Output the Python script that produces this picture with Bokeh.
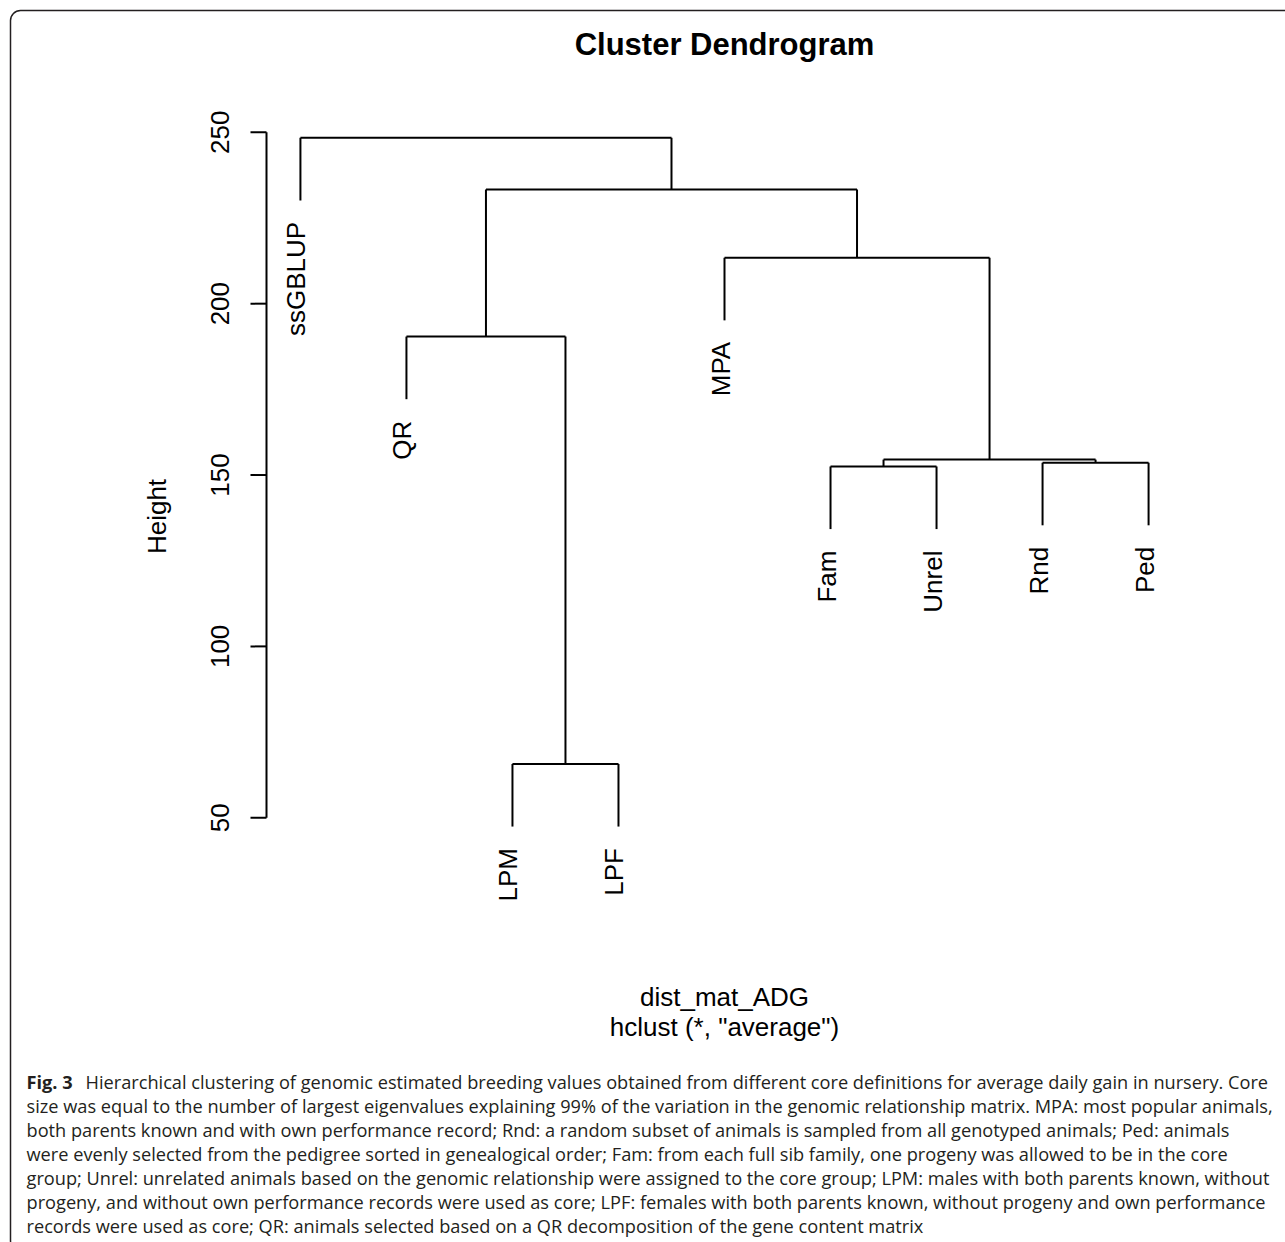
import math
from bokeh.plotting import figure
from bokeh.models import Range1d, Label, BoxAnnotation, ColumnDataSource
from bokeh.core.properties import value
from bokeh.embed import file_html
from bokeh.resources import INLINE

# ---------------- data ----------------
leaf_labels = ["ssGBLUP", "QR", "LPM", "LPF", "MPA", "Fam", "Unrel", "Rnd", "Ped"]
# R-style merge table: negative = leaf (1-based position in leaf order), positive = earlier merge
merge_left = [-3, -6, -8, 2, -2, -5, 5, -1]
merge_right = [-4, -7, -9, 3, 1, 4, 6, 7]
merge_height = [65.7, 152.5, 153.6, 154.5, 190.4, 213.4, 233.3, 248.4]
y_ticks = [50, 100, 150, 200, 250]
y_tick_labels = ["50", "100", "150", "200", "250"]

title_text = "Cluster Dendrogram"
xlab_lines = ["dist_mat_ADG", 'hclust (*, "average")']
ylab_text = "Height"
caption_bold = "Fig. 3"
caption_lines = [
    "Hierarchical clustering of genomic estimated breeding values obtained from different core definitions for average daily gain in nursery. Core",
    "size was equal to the number of largest eigenvalues explaining 99% of the variation in the genomic relationship matrix. MPA: most popular animals,",
    "both parents known and with own performance record; Rnd: a random subset of animals is sampled from all genotyped animals; Ped: animals",
    "were evenly selected from the pedigree sorted in genealogical order; Fam: from each full sib family, one progeny was allowed to be in the core",
    "group; Unrel: unrelated animals based on the genomic relationship were assigned to the core group; LPM: males with both parents known, without",
    "progeny, and without own performance records were used as core; LPF: females with both parents known, without progeny and own performance",
    "records were used as core; QR: animals selected based on a QR decomposition of the gene content matrix",
]

# ---------------- layout constants ----------------
W, H = 1285, 1242
PL, PR, PT, PB = 266, 1182, 107, 925   # R plot region in pixels
n = len(leaf_labels)
hang = 0.1 * (max(merge_height) - min(merge_height))
LABEL_LOW = 27.4                        # lowest extent of leaf labels (data units)
rx0, rx1 = 1 - 0.04 * (n - 1), n + 0.04 * (n - 1)
span = max(merge_height) - LABEL_LOW
ry1 = max(merge_height) + 0.04 * span
ry0 = LABEL_LOW - 0.04 * span

def xd(px):
    return rx0 + (px - PL) / (PR - PL) * (rx1 - rx0)

def yd(py):
    return ry1 - (py - PT) / (PB - PT) * (ry1 - ry0)

# ---------------- dendrogram geometry ----------------
node_x = {}
seg_x0, seg_y0, seg_x1, seg_y1 = [], [], [], []
leaf_x = [i + 1 for i in range(n)]
leaf_end = [0.0] * n

def child_pos(c, parent_h):
    if c < 0:
        idx = -c - 1
        leaf_end[idx] = parent_h - hang
        return leaf_x[idx], parent_h - hang
    return node_x[c], merge_height[c - 1]

for k in range(len(merge_height)):
    h = merge_height[k]
    xa, ya = child_pos(merge_left[k], h)
    xb, yb = child_pos(merge_right[k], h)
    seg_x0 += [xa, xb, xa]
    seg_y0 += [ya, yb, h]
    seg_x1 += [xa, xb, xb]
    seg_y1 += [h, h, h]
    node_x[k + 1] = (xa + xb) / 2

# ---------------- figure (frame = whole canvas) ----------------
p = figure(width=W, height=H, output_backend="svg", toolbar_location=None,
           x_range=Range1d(xd(0), xd(W)), y_range=Range1d(yd(H), yd(0)),
           x_axis_type=None, y_axis_type=None,
           min_border=0, min_border_left=0, min_border_right=0,
           min_border_top=0, min_border_bottom=0,
           outline_line_color=None, background_fill_color="white",
           border_fill_color="white")
p.grid.visible = False

LW = 2.0
FONT = "Liberation Sans"

# y axis (R style: line from first to last tick, outward ticks, rotated labels)
tick_len = xd(PL) - xd(PL - 16)
p.segment(x0=[rx0], y0=[min(y_ticks)], x1=[rx0], y1=[max(y_ticks)], line_color="black", line_width=LW)
p.segment(x0=[rx0] * len(y_ticks), y0=y_ticks, x1=[rx0 - tick_len] * len(y_ticks), y1=y_ticks,
          line_color="black", line_width=LW)
p.text(x=[rx0] * len(y_ticks), y=y_ticks, text=y_tick_labels, angle=math.pi / 2,
       x_offset=-47, text_align="center", text_baseline="middle",
       text_font=value(FONT), text_font_size="26px", text_color="black")
p.text(x=[rx0], y=[(ry0 + ry1) / 2], text=[ylab_text], angle=math.pi / 2,
       x_offset=-110, text_align="center", text_baseline="middle",
       text_font=value(FONT), text_font_size="26px", text_color="black")

# dendrogram
p.segment(x0=seg_x0, y0=seg_y0, x1=seg_x1, y1=seg_y1, line_color="black", line_width=LW)

src = ColumnDataSource(dict(x=leaf_x, y=leaf_end, t=leaf_labels))
p.text(x="x", y="y", text="t", source=src, angle=math.pi / 2,
       text_align="right", text_baseline="middle", x_offset=-4, y_offset=21.5,
       text_font=value(FONT), text_font_size="26px", text_color="black")

# title
p.add_layout(Label(x=(rx0 + rx1) / 2, y=yd(44), text=title_text, text_align="center",
                   text_baseline="middle", text_font=FONT,
                   text_font_style="bold", text_font_size="31px", text_color="black"))
# xlab / sub
for i, t in enumerate(xlab_lines):
    p.add_layout(Label(x=(rx0 + rx1) / 2, y=yd(996 + 30 * i), text=t, text_align="center",
                       text_baseline="middle", text_font=FONT,
                       text_font_size="26px", text_color="black"))

# caption
CAP_X, CAP_Y0, CAP_DY, CAP_FS = 26, 1081, 24, "18.2px"
p.add_layout(Label(x=xd(CAP_X), y=yd(CAP_Y0), text=caption_bold, text_align="left",
                   text_baseline="middle", text_font="Open Sans", text_font_style="bold",
                   text_font_size=CAP_FS, text_color="#231f20"))
for i, t in enumerate(caption_lines):
    xo = CAP_X + (59 if i == 0 else 0)
    p.add_layout(Label(x=xd(xo), y=yd(CAP_Y0 + CAP_DY * i), text=t, text_align="left",
                       text_baseline="middle", text_font="Open Sans",
                       text_font_size=CAP_FS, text_color="#231f20"))

# rounded frame around the figure
p.add_layout(BoxAnnotation(left=xd(10), right=xd(W + 40), top=yd(10), bottom=yd(H + 8),
                           fill_alpha=0, line_color="#231f20", line_alpha=1.0, line_width=1.5,
                           border_radius=10, level="overlay"))

open("out.html", "w").write(file_html(p, INLINE))
